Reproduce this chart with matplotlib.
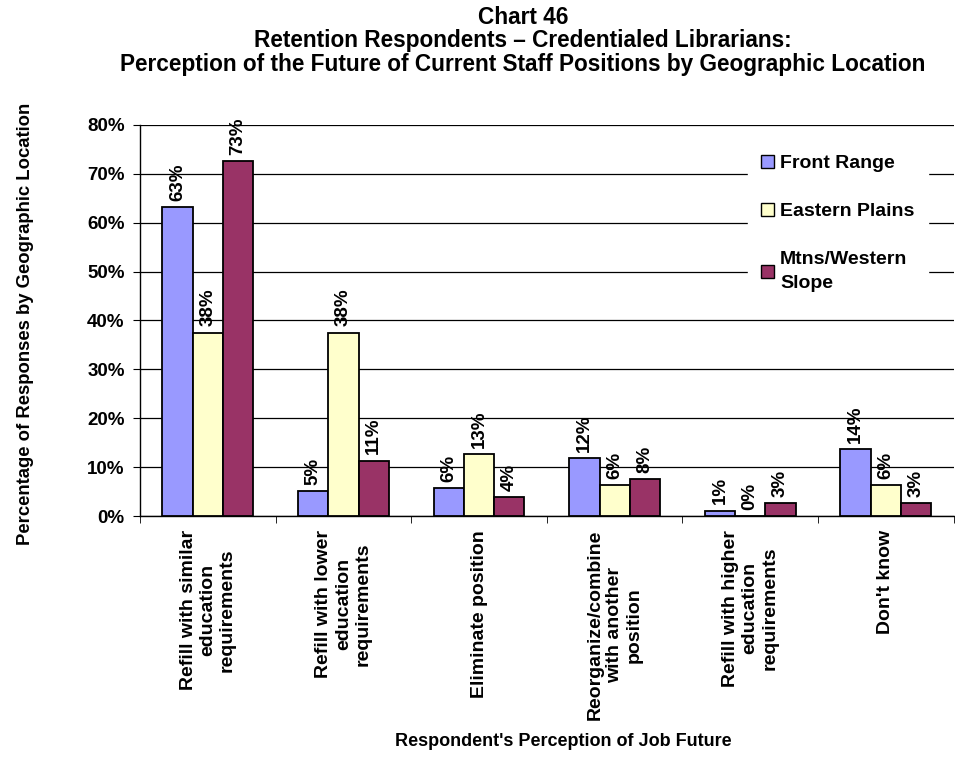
import numpy as np
import matplotlib.pyplot as plt
from matplotlib.patches import Patch

plt.rcParams['font.family'] = ['Liberation Sans', 'DejaVu Sans']
plt.rcParams['font.weight'] = 'bold'

# data
categories = ["Refill with similar\neducation\nrequirements",
              "Refill with lower\neducation\nrequirements",
              "Eliminate position",
              "Reorganize/combine\nwith another\nposition",
              "Refill with higher\neducation\nrequirements",
              "Don't know"]
front_range = [63.2, 5.1, 5.7, 11.8, 1.1, 13.7]
eastern_plains = [37.5, 37.5, 12.6, 6.3, 0.0, 6.3]
mtns_western = [72.6, 11.3, 3.8, 7.5, 2.6, 2.6]
series_names = ["Front Range", "Eastern Plains", "Mtns/Western\nSlope"]
colors = ["#9999FF", "#FFFFCC", "#993366"]

fig = plt.figure(figsize=(9.55, 7.64), dpi=100)
ax = fig.add_axes([0.1466, 0.3246, 0.852, 0.5118])

x = np.arange(len(categories))
w = 0.223
for i, (vals, c) in enumerate(zip([front_range, eastern_plains, mtns_western], colors)):
    pos = x + (i - 1) * w
    ax.bar(pos, vals, w, color=c, edgecolor='black', linewidth=1.3, zorder=3)
    for p, v in zip(pos, vals):
        ax.text(p, v + 1.3, "%d%%" % round(v), rotation=90, ha='center', va='bottom',
                fontsize=13.5, fontweight='bold', zorder=4)

ax.set_xlim(-0.5, len(categories) - 0.5)
ax.set_ylim(0, 80)
ax.set_yticks(np.arange(0, 81, 10))
ax.set_yticklabels(["%d%%" % t for t in range(0, 81, 10)], fontsize=13.5, fontweight='bold')
ax.yaxis.grid(True, color='black', linewidth=0.9, zorder=0)
ax.set_axisbelow(True)

ax.set_xticks(x)
ax.set_xticklabels(categories, rotation=90, ha='center', va='top', fontsize=14,
                   fontweight='bold', multialignment='center')
ax.tick_params(axis='x', length=0, pad=10)
ax.set_xticks(np.arange(-0.5, len(categories), 1), minor=True)
ax.tick_params(axis='x', which='minor', length=5, direction='out')
ax.tick_params(axis='y', length=5, direction='out', pad=6)

for s in ['top', 'right']:
    ax.spines[s].set_visible(False)
ax.spines['left'].set_linewidth(1.0)
ax.spines['bottom'].set_linewidth(1.0)

fig.text(563 / 955, 1 - 742 / 764, "Respondent's Perception of Job Future",
         ha='center', va='center', fontsize=13, fontweight='bold')
fig.text(0.027, 0.576, "Percentage of Responses by Geographic Location", rotation=90,
         ha='center', va='center', fontsize=13.3, fontweight='bold')

fig.text(523 / 955, 1 - 41 / 764,
         "Chart 46\nRetention Respondents \u2013 Credentialed Librarians:\n"
         "Perception of the Future of Current Staff Positions by Geographic Location",
         ha='center', va='center', fontsize=16.3, fontweight='bold', linespacing=1.05)

handles = [Patch(facecolor=c, edgecolor='black', linewidth=1.0) for c in colors]
leg = ax.legend(handles, series_names, loc='upper left', bbox_to_anchor=(0.747, 0.959),
                fontsize=14, frameon=True, fancybox=False, labelspacing=1.6,
                handlelength=0.65, handleheight=0.65, handletextpad=0.3,
                borderpad=0.7, borderaxespad=0)
leg.get_frame().set_facecolor('white')
leg.get_frame().set_edgecolor('white')
leg.get_frame().set_alpha(1)
for t in leg.get_texts():
    t.set_fontweight('bold')
    t.set_linespacing(1.5)

fig.savefig("out.png", dpi=100)
